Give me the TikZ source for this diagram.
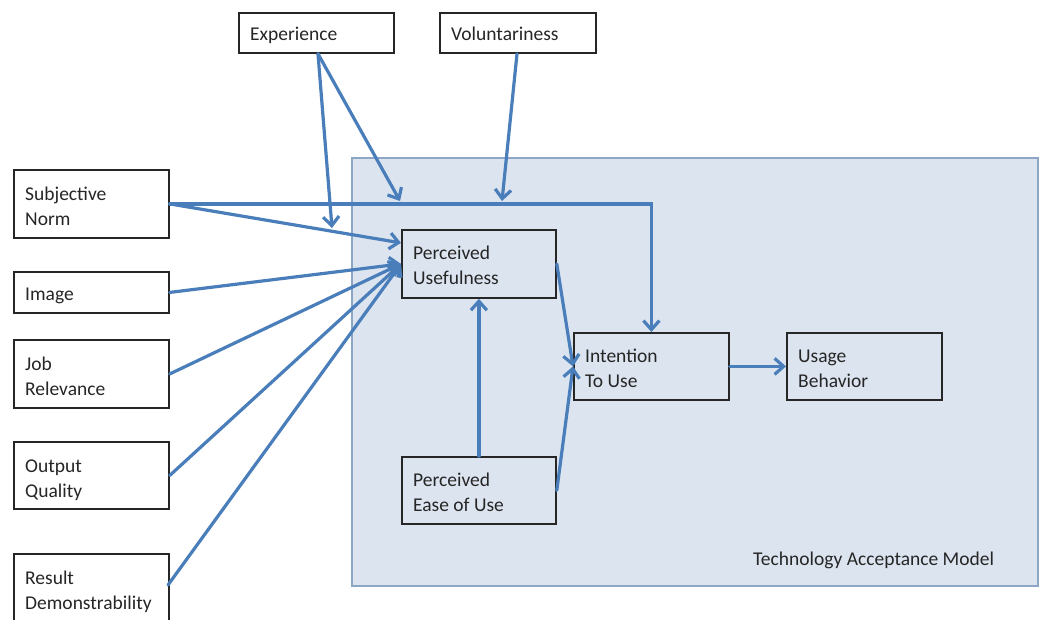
\documentclass[tikz,border=0pt]{standalone}
\usepackage{fontspec}
\setmainfont{Carlito}
\usetikzlibrary{arrows.meta,calc}
\definecolor{flow}{HTML}{4A7EBB}
\definecolor{tamfill}{HTML}{DCE4EF}
\definecolor{tamline}{HTML}{8DA6C6}
\definecolor{ink}{HTML}{262626}
\begin{document}
\begin{tikzpicture}[x=1pt,y=-1pt,
  box/.style={draw=ink, line width=1.8pt, rectangle, inner sep=0pt, anchor=north west},
  outerbox/.style={box, fill=white},
  lbl/.style={font=\fontsize{19.5}{25}\selectfont, text=ink, align=left, inner sep=0pt, anchor=base west},
  flowline/.style={draw=flow, line width=3.2pt, line cap=round,
    -{Straight Barb[length=9pt,width=16pt]}},
  plainline/.style={draw=flow, line width=3.2pt, line cap=round}]
\useasboundingbox (0,0) rectangle (1039,619);
\clip (0,0) rectangle (1039,619);

% model frame
\node[draw=tamline, fill=tamfill, line width=2pt, rectangle, inner sep=0pt,
  anchor=north west, minimum width=686pt, minimum height=428pt] (tam) at (351,157) {};
\node[lbl] (tam-t) at (753,565) {Technology Acceptance Model};

% external factors
\node[outerbox, minimum width=155pt, minimum height=40pt] (exp) at (238,12) {};
\node[outerbox, minimum width=156pt, minimum height=40pt] (vol) at (439,12) {};
\node[outerbox, minimum width=155pt, minimum height=68pt] (sn)  at (13,169) {};
\node[outerbox, minimum width=155pt, minimum height=41pt] (img) at (13,271) {};
\node[outerbox, minimum width=155pt, minimum height=68pt] (job) at (13,339) {};
\node[outerbox, minimum width=155pt, minimum height=67pt] (oq)  at (13,441) {};
\node[outerbox, minimum width=155pt, minimum height=72pt] (rd)  at (13,553) {};

% model constructs
\node[box, minimum width=154pt, minimum height=68pt] (pu)   at (401,229) {};
\node[box, minimum width=154pt, minimum height=67pt] (peou) at (401,456) {};
\node[box, minimum width=155pt, minimum height=67pt] (itu)  at (573,332) {};
\node[box, minimum width=155pt, minimum height=67pt] (ub)   at (786,332) {};

% labels (base anchor sits on the last line)
\node[lbl] (exp-t)  at ($(exp.north west)+(12,28)$)  {Experience};
\node[lbl] (vol-t)  at ($(vol.north west)+(12,28)$)  {Voluntariness};
\node[lbl] (sn-t)   at ($(sn.north west)+(12,56)$)   {Subjective\\Norm};
\node[lbl] (img-t)  at ($(img.north west)+(12,29)$)  {Image};
\node[lbl] (job-t)  at ($(job.north west)+(12,56)$)  {Job\\Relevance};
\node[lbl] (oq-t)   at ($(oq.north west)+(12,56)$)   {Output\\Quality};
\node[lbl] (rd-t)   at ($(rd.north west)+(12,56)$)   {Result\\Demonstrability};
\node[lbl] (pu-t)   at ($(pu.north west)+(12,55)$)   {Perceived\\Usefulness};
\node[lbl] (peou-t) at ($(peou.north west)+(12,55)$) {Perceived\\Ease of Use};
\node[lbl] (itu-t)  at ($(itu.north west)+(12,55)$)  {Intention\\To Use};
\node[lbl] (ub-t)   at ($(ub.north west)+(12,55)$)   {Usage\\Behavior};

% anchor points for the connectors
\coordinate (exp-o) at ($(exp.south west)+(80,0)$);
\coordinate (vol-o) at ($(vol.south west)+(78,0)$);
\coordinate (exp-a) at (332,228);
\coordinate (exp-b) at (400,201);
\coordinate (vol-a) at (502,201);
\coordinate (pu-in) at ($(pu.west)+(0,-21)$);
\coordinate (rd-o)  at ($(rd.north west)+(155,32)$);

% moderators
\draw[flowline] (exp-o) -- (exp-a);
\draw[flowline] (exp-o) -- (exp-b);
\draw[flowline] (vol-o) -- (vol-a);

% determinants of perceived usefulness
\draw[flowline] (sn.east) -| (itu.north);
\draw[flowline] (sn.east) -- (pu-in);
\draw[flowline] (img.east) -- (pu.west);
\draw[flowline] (job.east) -- (pu.west);
\draw[flowline] (oq.east) -- (pu.west);
\draw[flowline] (rd-o) -- (pu.west);

% core model
\draw[flowline] (peou.north) -- (pu.south);
\draw[flowline] (pu.east) -- (itu.west);
\draw[flowline] (peou.east) -- (itu.west);
\draw[flowline] (itu.east) -- (ub.west);
\end{tikzpicture}
\end{document}
